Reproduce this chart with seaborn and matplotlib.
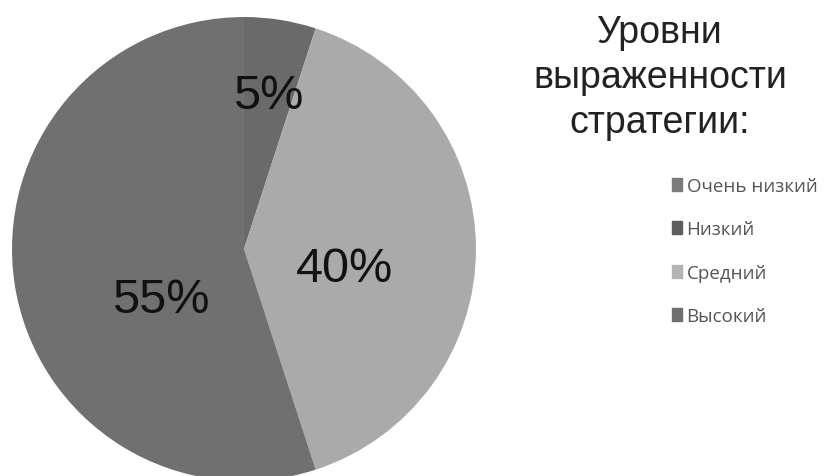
import matplotlib
matplotlib.use("Agg")
import matplotlib.pyplot as plt
import seaborn as sns
import numpy as np

categories = ["Очень низкий", "Низкий", "Средний", "Высокий"]
values = [0, 5, 40, 55]
pct_labels = ["", "5%", "40%", "55%"]
title_text = "Уровни\nвыраженности\nстратегии:"

sns.set_theme(style="white")
plt.rcParams['font.family'] = ['Liberation Sans', 'DejaVu Sans']

colors = ["#7a7a7a", "#6a6a6a", "#aaaaaa", "#707070"]
legend_colors = ["#7a7a7a", "#5e5e5e", "#b3b3b3", "#6e6e6e"]

fig = plt.figure(figsize=(8.25, 4.77), dpi=100)
ax = fig.add_axes([0.01455, -0.0105, 0.5624, 0.9727])
wedges, _ = ax.pie(values, colors=colors, startangle=90, counterclock=False,
                   radius=1.0, wedgeprops=dict(linewidth=0))
ax.set_xlim(-1, 1)
ax.set_ylim(-1, 1)
ax.set_aspect("equal")

# label placement: radius fraction and angle tweak per slice
label_r = [0, 0.67, 0.44, 0.42]
label_dang = [0, 0, -11, 22]
for w, lab, r, da in zip(wedges, pct_labels, label_r, label_dang):
    if not lab:
        continue
    ang = np.deg2rad((w.theta1 + w.theta2) / 2 + da)
    ax.text(r * np.cos(ang), r * np.sin(ang), lab, ha="center", va="center",
            fontsize=35, color="#111111")

fig.text(0.80, 0.968, title_text, ha="center", va="top", fontsize=27,
         color="#222222", linespacing=1.32)

handles = [plt.Rectangle((0, 0), 1, 1, color=c) for c in legend_colors]
leg = fig.legend(handles, categories, loc="upper left", bbox_to_anchor=(0.805, 0.643),
                 frameon=False, fontsize=13.5, handlelength=0.55, handleheight=0.7,
                 handletextpad=0.25, labelspacing=1.36, borderaxespad=0)
for t in leg.get_texts():
    t.set_color("#555555")
    t.set_family(["Open Sans", "DejaVu Sans"])

fig.savefig("out.png", dpi=100)
